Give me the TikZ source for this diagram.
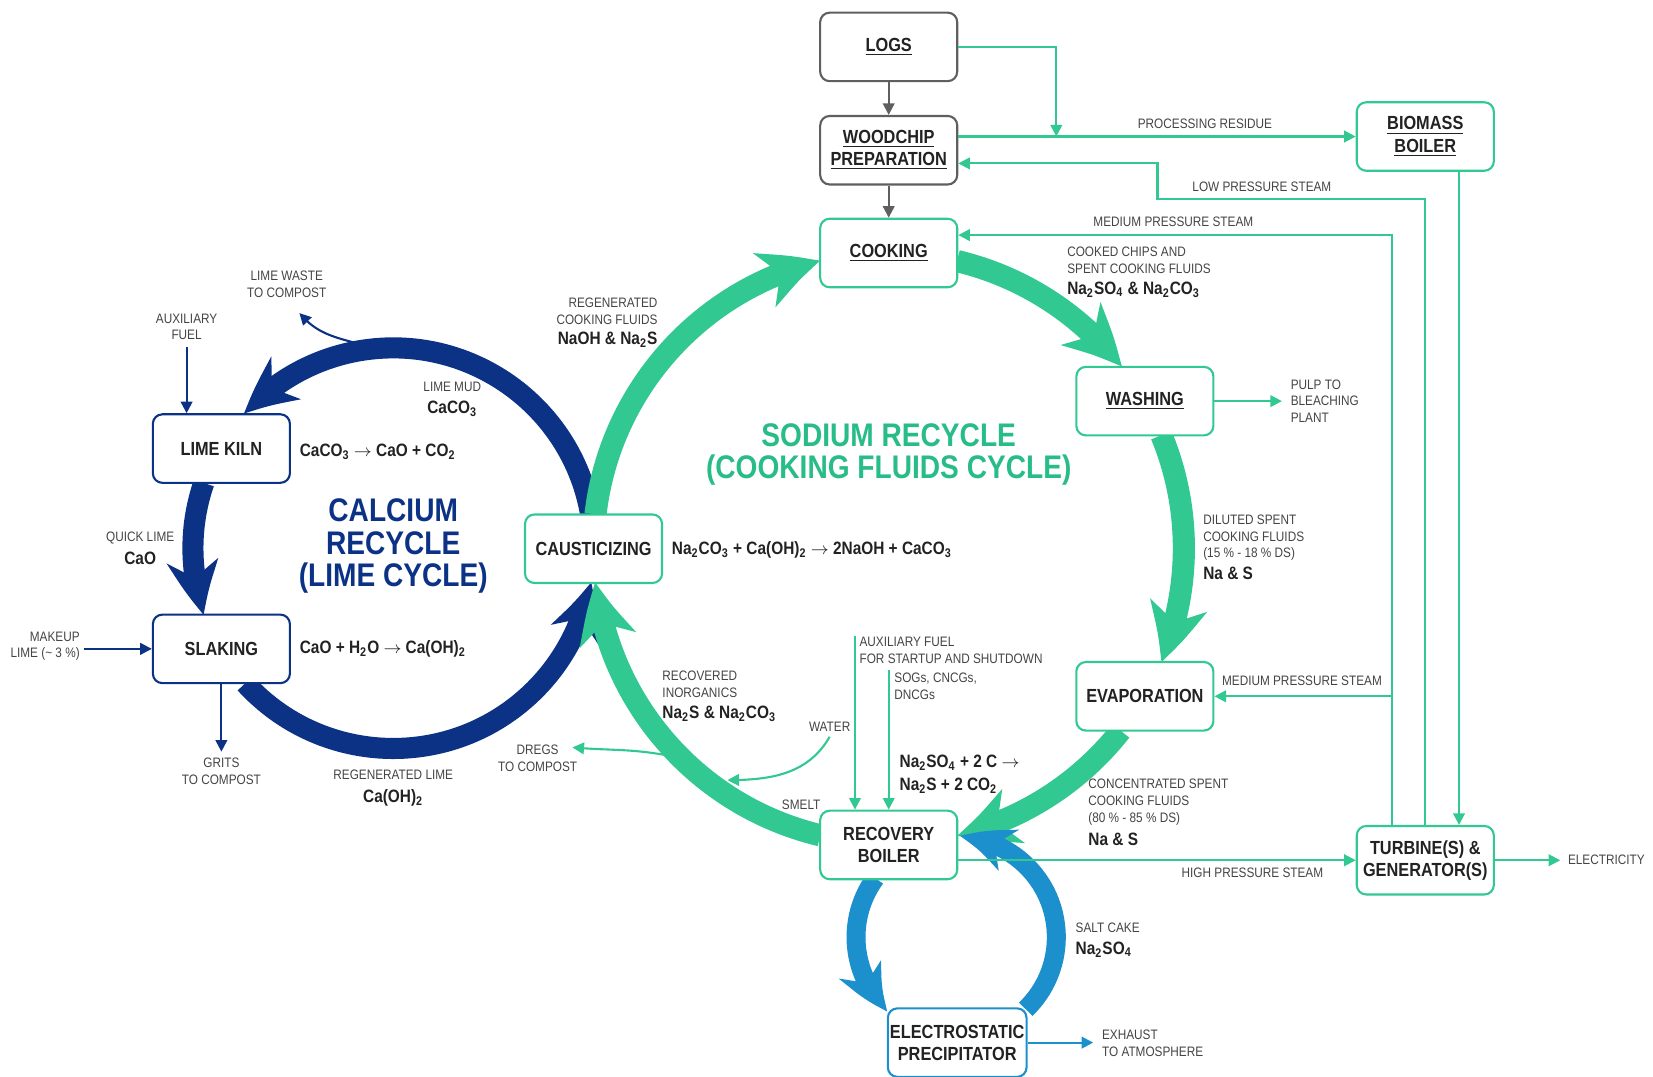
\documentclass[tikz,border=0pt]{standalone}
\usepackage{fontspec}
\setmainfont{Liberation Sans}[FakeStretch=0.86]
\usetikzlibrary{arrows.meta,bending,calc}
\definecolor{sgreen}{RGB}{50,200,145}
\definecolor{titlegreen}{RGB}{40,188,136}
\definecolor{navy}{RGB}{12,50,134}
\definecolor{eblue}{RGB}{28,143,205}
\definecolor{boxgray}{RGB}{95,95,95}
\definecolor{txtgray}{RGB}{68,68,68}
\definecolor{txtdark}{RGB}{34,34,34}
\newcommand{\sbs}[1]{\textsubscript{#1}}
\newcommand{\rarr}{\ensuremath{\rightarrow}}
\begin{document}
\begin{tikzpicture}[x=0.5pt,y=0.5pt,
  procbox/.style={draw, line width=1pt, rounded corners=4.5pt, fill=white,
    minimum width=65pt, minimum height=32.5pt, inner sep=1pt, align=center,
    text=txtdark, font=\fontsize{9}{10.5}\selectfont\bfseries},
  greenbox/.style={procbox, draw=sgreen},
  navybox/.style={procbox, draw=navy},
  graybox/.style={procbox, draw=boxgray},
  bluebox/.style={procbox, draw=eblue},
  lbl/.style={inner sep=0pt, text=txtgray, font=\fontsize{6.5}{8}\selectfont},
  fml/.style={inner sep=0pt, text=txtdark, font=\fontsize{8.5}{11}\selectfont\bfseries},
  thingreen/.style={draw=sgreen, line width=1pt, -{Triangle[length=5.5pt,width=5.5pt]}},
  thinnavy/.style={draw=navy, line width=1pt, -{Triangle[length=5.5pt,width=5.5pt]}},
  thinblue/.style={draw=eblue, line width=1pt, -{Triangle[length=5.5pt,width=5.5pt]}},
  thingray/.style={draw=boxgray, line width=1pt, -{Triangle[length=5.5pt,width=5.5pt]}},
  sodiumarc/.style={draw=sgreen, line width=10.5pt, -{Stealth[length=28pt,width=27pt,inset=8pt,bend]}},
  calciumarc/.style={draw=navy, line width=10pt, -{Stealth[length=26pt,width=24pt,inset=8pt,bend]}},
  esparc/.style={draw=eblue, line width=9pt, -{Stealth[length=24pt,width=21pt,inset=7pt,bend]}},
]
\useasboundingbox (0,0) rectangle (1568,-1021);

% cycle centres
\coordinate (sc) at (843,-520);
\coordinate (cc) at (373,-520);
\coordinate (ec) at (907,-889);

% calcium cycle
\draw[calciumarc] ($(cc)+(9.7:190)$) arc[start angle=9.7,end angle=138,radius=190];
\draw[calciumarc] ($(cc)+(161:190)$) arc[start angle=161,end angle=199.4,radius=190];
\draw[calciumarc] ($(cc)+(222.4:190)$) arc[start angle=222.4,end angle=350.3,radius=190];

% sodium cycle
\draw[sodiumarc] ($(sc)+(173.4:280)$) arc[start angle=173.4,end angle=103.4,radius=280];
\draw[sodiumarc] ($(sc)+(76.6:280)$) arc[start angle=76.6,end angle=37.9,radius=280];
\draw[sodiumarc] ($(sc)+(22.5:280)$) arc[start angle=22.5,end angle=-22.7,radius=280];
\draw[sodiumarc] ($(sc)+(-38.2:280)$) arc[start angle=-38.2,end angle=-76.6,radius=280];
\draw[sodiumarc] ($(sc)+(-103.4:280)$) arc[start angle=-103.4,end angle=-173.4,radius=280];

% ESP cycle
\draw[esparc] ($(ec)+(143.9:95)$) arc[start angle=143.9,end angle=227.4,radius=95];
\draw[esparc] ($(ec)+(-46:95)$) arc[start angle=-46,end angle=88,radius=95];

% process boxes
\node[graybox] (logs) at (843,-44.5) {\underline{LOGS}};
\node[graybox] (wood) at (843,-142.5) {\underline{WOODCHIP}\\\underline{PREPARATION}};
\node[greenbox] (cook) at (843,-240) {\underline{COOKING}};
\node[greenbox] (bio) at (1352,-129.5) {\underline{BIOMASS}\\\underline{BOILER}};
\node[greenbox] (wash) at (1086,-380.5) {\underline{WASHING}};
\node[greenbox] (evap) at (1086,-660.5) {EVAPORATION};
\node[greenbox] (rec) at (843,-801.5) {RECOVERY\\BOILER};
\node[greenbox] (turb) at (1352,-816) {TURBINE(S) \&\\GENERATOR(S)};
\node[bluebox] (esp) at (908,-989) {ELECTROSTATIC\\PRECIPITATOR};
\node[greenbox] (caus) at (563,-520.5) {CAUSTICIZING};
\node[navybox] (kiln) at (210,-425.5) {LIME KILN};
\node[navybox] (slak) at (210,-615.5) {SLAKING};

% titles
\node[align=center, text=navy, font=\fontsize{15.5}{15.5}\selectfont\bfseries] (catitle) at (373,-518) {CALCIUM\\RECYCLE\\(LIME CYCLE)};
\node[align=center, text=titlegreen, font=\fontsize{15.5}{15.5}\selectfont\bfseries] (natitle) at (843,-431) {SODIUM RECYCLE\\(COOKING FLUIDS CYCLE)};

% labels
\node[lbl] (prl) at (1143,-117) {PROCESSING RESIDUE};
\node[lbl] (lpl) at (1197,-177) {LOW PRESSURE STEAM};
\node[lbl] (mpl1) at (1113,-210) {MEDIUM PRESSURE STEAM};
\node[lbl] (mpl2) at (1235,-646) {MEDIUM PRESSURE STEAM};
\node[lbl] (hpl) at (1188,-828) {HIGH PRESSURE STEAM};
\node[lbl, anchor=west] (elec) at (1487,-816) {ELECTRICITY};
\node[lbl, anchor=west, align=left] (pulp) at (1224,-380.5) {PULP TO\\BLEACHING\\PLANT};
\node[lbl, anchor=west, align=left] (ccl) at (1012,-246.5) {COOKED CHIPS AND\\SPENT COOKING FLUIDS};
\node[fml, anchor=base west] (ccf) at (1012,-279) {Na\sbs{2}SO\sbs{4} \& Na\sbs{2}CO\sbs{3}};
\node[lbl, anchor=west, align=left] (dsl) at (1141,-510) {DILUTED SPENT\\COOKING FLUIDS\\(15 \% - 18 \% DS)};
\node[fml, anchor=base west] (dsf) at (1141,-550) {Na \& S};
\node[lbl, anchor=west, align=left] (csl) at (1032,-761) {CONCENTRATED SPENT\\COOKING FLUIDS\\(80 \% - 85 \% DS)};
\node[fml, anchor=base west] (csf) at (1032,-802) {Na \& S};
\node[lbl, anchor=west] (scl) at (1020,-880) {SALT CAKE};
\node[fml, anchor=base west] (scf) at (1020,-905) {Na\sbs{2}SO\sbs{4}};
\node[fml, anchor=base west] (rb1) at (853,-728) {Na\sbs{2}SO\sbs{4} + 2 C \rarr};
\node[fml, anchor=base west] (rb2) at (853,-750) {Na\sbs{2}S + 2 CO\sbs{2}};
\node[lbl, anchor=west, align=left] (afl) at (815,-617) {AUXILIARY FUEL\\FOR STARTUP AND SHUTDOWN};
\node[lbl, anchor=west, align=left] (sogl) at (848,-651) {SOGs, CNCGs,\\DNCGs};
\node[lbl] (water) at (787,-689) {WATER};
\node[lbl] (smelt) at (760,-763) {SMELT};
\node[lbl, anchor=west, align=left] (rinl) at (628,-649) {RECOVERED\\INORGANICS};
\node[fml, anchor=base west] (rinf) at (628,-682) {Na\sbs{2}S \& Na\sbs{2}CO\sbs{3}};
\node[lbl, align=center] (dregs) at (510,-719) {DREGS\\TO COMPOST};
\node[lbl, anchor=east, align=right] (rcfl) at (624,-295) {REGENERATED\\COOKING FLUIDS};
\node[fml, anchor=base east] (rcff) at (624,-327) {NaOH \& Na\sbs{2}S};
\node[fml, anchor=base west] (causf) at (637,-526) {Na\sbs{2}CO\sbs{3} + Ca(OH)\sbs{2} \rarr{} 2NaOH + CaCO\sbs{3}};
\node[lbl] (lmud) at (429,-367) {LIME MUD};
\node[fml, anchor=base] (lmudf) at (429,-392) {CaCO\sbs{3}};
\node[fml, anchor=base west] (kilnf) at (284,-433) {CaCO\sbs{3} \rarr{} CaO + CO\sbs{2}};
\node[lbl] (qlime) at (133,-510) {QUICK LIME};
\node[fml, anchor=base] (qlimef) at (133,-535) {CaO};
\node[fml, anchor=base west] (slakf) at (284,-620) {CaO + H\sbs{2}O \rarr{} Ca(OH)\sbs{2}};
\node[lbl] (rlime) at (373,-735) {REGENERATED LIME};
\node[fml, anchor=base] (rlimef) at (373,-761) {Ca(OH)\sbs{2}};
\node[lbl, align=center] (grits) at (210,-732) {GRITS\\TO COMPOST};
\node[lbl, anchor=east, align=right] (mkup) at (76,-613) {MAKEUP\\LIME (\textasciitilde{} 3 \%)};
\node[lbl, align=center] (auxl) at (177,-310) {AUXILIARY\\FUEL};
\node[lbl, align=center] (limew) at (272,-270) {LIME WASTE\\TO COMPOST};
\node[lbl, anchor=west, align=left] (exh) at (1045,-990) {EXHAUST\\TO ATMOSPHERE};

% thin connectors
\draw[thingray] (logs) -- (wood);
\draw[thingray] (wood) -- (cook);
\coordinate (resj) at (1002,-129.5);
\draw[thingreen] (logs.east) -| (resj);
\draw[thingreen] (wood.east |- bio.west) -- (bio.west);
\draw[thingreen] (turb.north) |- (1098,-189) |- ($(wood.east)+(0,-12.5)$);
\coordinate (mpx) at ($(turb.north)+(-32,0)$);
\draw[thingreen] (mpx) |- ($(cook.east)+(0,17)$);
\draw[thingreen] (evap.east -| mpx) -- (evap.east);
\draw[thingreen] ($(bio.south)+(32,0)$) -- ($(turb.north)+(32,0)$);
\draw[thingreen] (rec.east |- turb.west) -- (turb.west);
\draw[thingreen, shorten >=3.5pt] (turb.east) -- (elec.west);
\draw[thingreen, shorten >=4pt] (wash.east) -- (pulp.west |- wash.east);
\coordinate (auxtop) at (811,-603);
\draw[thingreen] (auxtop) -- (auxtop |- rec.north);
\coordinate (sogtop) at (843,-636);
\draw[thingreen] (sogtop) -- (rec.north);
\coordinate (waterend) at (690,-740);
\draw[thingreen] ($(water.south)+(0,-5)$) to[out=-120,in=0] (waterend);
\coordinate (dregstart) at (630,-716);
\coordinate (dregend) at (543,-709);
\draw[thingreen] (dregstart) to[out=170,in=-5] (dregend);
\coordinate (lwstart) at (336,-325);
\coordinate (lwend) at (284,-297);
\draw[thinnavy] (lwstart) to[out=165,in=-50] (lwend);
\draw[thinnavy] ($(auxl.south)+(0,-6)$) -- (auxl.south |- kiln.north);
\draw[thinnavy] ($(mkup.east |- slak.west)+(4,0)$) -- (slak.west);
\draw[thinnavy] (slak.south) -- ($(grits.north)+(0,6)$);
\draw[thinblue, shorten >=4pt] (esp.east) -- (esp.east -| exh.west);
\end{tikzpicture}
\end{document}
